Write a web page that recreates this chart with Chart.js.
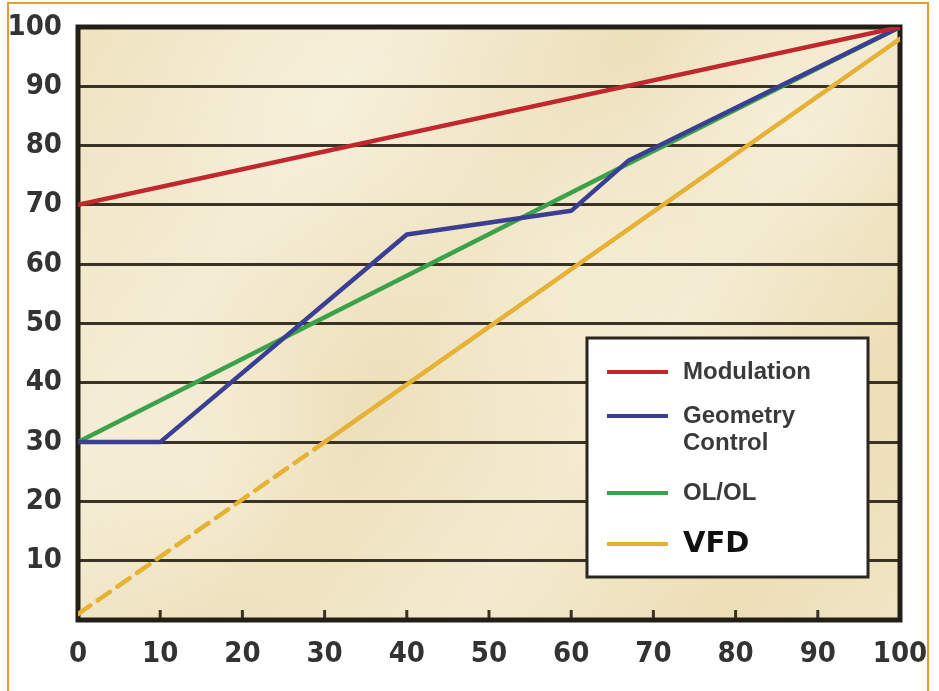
<!DOCTYPE html>
<html>
<head>
<meta charset="utf-8">
<script src="https://cdn.jsdelivr.net/npm/chart.js@4.4.1/dist/chart.umd.min.js"></script>
<style>
  html, body { margin: 0; padding: 0; background: #fff; }
  #wrap { width: 939px; height: 691px; position: relative; }
</style>
</head>
<body>
<div id="wrap"><canvas id="chart" width="939" height="691"></canvas></div>
<script>
  // values
  const xTicks = [0, 10, 20, 30, 40, 50, 60, 70, 80, 90, 100];
  const yTicks = [10, 20, 30, 40, 50, 60, 70, 80, 90, 100];

  const modX = [0, 100];
  const modY = [70, 100];

  const geoX = [0, 10, 40, 60, 67, 100];
  const geoY = [30, 30, 65, 69, 77.5, 100];

  const olX = [0, 67, 100];
  const olY = [30, 77, 100];

  const vfdX = [0, 30, 100];
  const vfdY = [1, 30, 98];
  const vfdDashEnd = 30;

  const seriesNames = ['Modulation', 'Geometry Control', 'OL/OL', 'VFD'];
  const seriesColors = ['#c1272d', '#3b3f93', '#3ca24a', '#e6b236'];

  const toPoints = (xs, ys) => xs.map((x, i) => ({ x: x, y: ys[i] }));

  const tickFont = { family: '"DejaVu Sans Condensed", "Liberation Sans Narrow", sans-serif', size: 29, weight: 'bold' };

  // parchment background, frame, inner x ticks
  const backdrop = {
    id: 'backdrop',
    beforeDraw(chart) {
      const { ctx, chartArea: a } = chart;
      ctx.save();
      const g = ctx.createLinearGradient(a.left, a.top, a.right, a.bottom);
      g.addColorStop(0, '#efe3c0');
      g.addColorStop(0.25, '#f4ecd4');
      g.addColorStop(0.45, '#ede0bb');
      g.addColorStop(0.65, '#f3eacf');
      g.addColorStop(0.85, '#ecdeb6');
      g.addColorStop(1, '#f0e5c5');
      ctx.fillStyle = g;
      ctx.fillRect(a.left, a.top, a.right - a.left, a.bottom - a.top);
      const spots = [[0.3, 0.12, 180], [0.6, 0.4, 220], [0.15, 0.75, 160], [0.85, 0.15, 140]];
      spots.forEach(s => {
        const cx = a.left + s[0] * (a.right - a.left), cy = a.top + s[1] * (a.bottom - a.top);
        const r = ctx.createRadialGradient(cx, cy, 0, cx, cy, s[2]);
        r.addColorStop(0, 'rgba(248,242,222,0.55)');
        r.addColorStop(1, 'rgba(248,242,222,0)');
        ctx.fillStyle = r;
        ctx.fillRect(a.left, a.top, a.right - a.left, a.bottom - a.top);
      });
      // orange frame round the figure
      ctx.strokeStyle = '#e49d2f';
      ctx.lineWidth = 2;
      ctx.beginPath();
      ctx.moveTo(8, 700);
      ctx.lineTo(8, 3);
      ctx.lineTo(928, 3);
      ctx.lineTo(928, 700);
      ctx.stroke();
      ctx.restore();
    },
    beforeDatasetsDraw(chart) {
      const { ctx, chartArea: a, scales } = chart;
      ctx.save();
      ctx.strokeStyle = '#3a3224';
      ctx.lineWidth = 3;
      xTicks.slice(1, -1).forEach(v => {
        const px = scales.x.getPixelForValue(v);
        ctx.beginPath();
        ctx.moveTo(px, a.bottom);
        ctx.lineTo(px, a.bottom - 10);
        ctx.stroke();
      });
      ctx.strokeStyle = '#221e18';
      ctx.lineWidth = 5;
      ctx.strokeRect(a.left, a.top, a.right - a.left, a.bottom - a.top);
      ctx.restore();
    }
  };

  // boxed legend in the lower right
  const boxLegend = {
    id: 'boxLegend',
    afterDraw(chart) {
      const { ctx, chartArea: a } = chart;
      const left = a.left + 509, top = a.top + 311, w = 281, h = 239;
      ctx.save();
      ctx.fillStyle = '#ffffff';
      ctx.fillRect(left, top, w, h);
      ctx.strokeStyle = '#2a2620';
      ctx.lineWidth = 3;
      ctx.strokeRect(left, top, w, h);
      const rows = [
        { lines: ['Modulation'], y: 34 },
        { lines: ['Geometry', 'Control'], y: 78 },
        { lines: ['OL/OL'], y: 155 },
        { lines: ['VFD'], y: 206 }
      ];
      ctx.textBaseline = 'middle';
      rows.forEach((r, i) => {
        ctx.strokeStyle = seriesColors[i];
        ctx.lineWidth = 4;
        ctx.beginPath();
        ctx.moveTo(left + 20, top + r.y);
        ctx.lineTo(left + 81, top + r.y);
        ctx.stroke();
        if (i === 3) {
          ctx.fillStyle = '#111111';
          ctx.font = 'bold 29px "DejaVu Sans", sans-serif';
        } else {
          ctx.fillStyle = '#3a3a3a';
          ctx.font = 'bold 24px "Liberation Sans", Arial, sans-serif';
        }
        r.lines.forEach((t, j) => ctx.fillText(t, left + 96, top + r.y + j * 27));
      });
      ctx.restore();
    }
  };

  new Chart(document.getElementById('chart').getContext('2d'), {
    type: 'line',
    data: {
      datasets: [
        { label: seriesNames[0], data: toPoints(modX, modY), borderColor: seriesColors[0] },
        { label: seriesNames[1], data: toPoints(geoX, geoY), borderColor: seriesColors[1] },
        { label: seriesNames[2], data: toPoints(olX, olY), borderColor: seriesColors[2] },
        {
          label: seriesNames[3], data: toPoints(vfdX, vfdY), borderColor: seriesColors[3],
          segment: { borderDash: ctx => ctx.p1.parsed.x <= vfdDashEnd ? [15, 9] : undefined }
        }
      ]
    },
    options: {
      responsive: false,
      animation: false,
      devicePixelRatio: 1,
      layout: { padding: { left: 0, top: 27, right: 39, bottom: 0 } },
      elements: {
        line: { borderWidth: 4.5, tension: 0, fill: false, borderCapStyle: 'round', borderJoinStyle: 'round' },
        point: { radius: 0 }
      },
      plugins: {
        legend: { display: false },
        tooltip: { enabled: false }
      },
      scales: {
        x: {
          type: 'linear',
          min: 0, max: 100,
          afterFit: s => { s.height = 71; s.paddingLeft = 0; s.paddingRight = 0; },
          afterBuildTicks: s => { s.ticks = xTicks.map(v => ({ value: v })); },
          grid: { display: false, drawTicks: false },
          border: { display: false },
          ticks: { font: tickFont, color: '#333333', padding: 17, maxRotation: 0, autoSkip: false }
        },
        y: {
          min: 0, max: 100,
          afterFit: s => { s.width = 78; s.paddingTop = 0; s.paddingBottom = 0; },
          afterBuildTicks: s => { s.ticks = yTicks.map(v => ({ value: v })); },
          grid: { color: '#3a3224', lineWidth: 3, drawTicks: false },
          border: { display: false },
          ticks: { font: tickFont, color: '#333333', padding: 16, autoSkip: false }
        }
      }
    },
    plugins: [backdrop, boxLegend]
  });
</script>
</body>
</html>
